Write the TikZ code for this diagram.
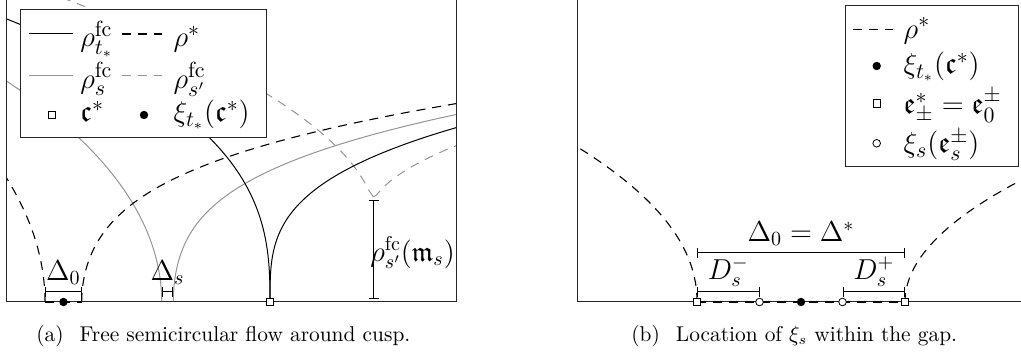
\documentclass[tikz,border=0pt]{standalone}
\usepackage{amssymb}
\usetikzlibrary{arrows.meta}

\begin{document}
\begin{tikzpicture}[x=0.5pt,y=0.5pt,
  frame/.style={line width=0.5pt,black!85},
  fcblack/.style={line width=0.5pt},
  fcgray/.style={line width=0.5pt,black!42},
  rhostar/.style={line width=0.55pt,dash pattern=on 4.5pt off 3.5pt},
  fcdash/.style={fcgray,dash pattern=on 4.5pt off 3.5pt},
  gapbar/.style={line width=0.5pt,arrows={Bar[width=5pt]-Bar[width=5pt]}},
  sqmark/.style={draw,fill=white,rectangle,minimum size=3.8pt,inner sep=0pt,line width=0.4pt},
  dotmark/.style={fill,circle,minimum size=4.2pt,inner sep=0pt},
  ringmark/.style={draw,fill=white,circle,minimum size=3.8pt,inner sep=0pt,line width=0.4pt},
  plbl/.style={font=\fontsize{14}{17}\selectfont},
  leglbl/.style={anchor=base west,inner sep=0pt,font=\fontsize{15}{18}\selectfont},
  capt/.style={anchor=base,font=\fontsize{10.7}{13}\selectfont}]
  \useasboundingbox (0,0) rectangle (1021,356);

  % (a) flow around the cusp
  \begin{scope}[shift={(6,54)}]
    \begin{scope}
      \clip (0,0) rectangle (450,302.2);
      \draw[fcdash,domain=0:370,samples=90,variable=\e]
        plot ({367.5-\e},{105+9.19*((10*veclen(\e/10,0.3))^0.55-1.83)});
      \draw[fcdash,domain=0:85,samples=30,variable=\e]
        plot ({367.5+\e},{105+5.4*((10*veclen(\e/10,0.3))^0.55-1.83)});
      \draw[fcgray,domain=0.001:12.6,samples=60,variable=\t]
        plot ({155.7-\t*\t},{32.7*\t*(\t*\t+300)^(-0.1)});
      \draw[fcgray,domain=0.001:16.9,samples=60,variable=\t]
        plot ({167.3+\t*\t},{33*\t*(\t*\t+20)^(-0.19)});
      \draw[rhostar,domain=0:6.3,samples=30,variable=\t]
        plot ({39-\t*\t},{20*\t});
      \draw[rhostar,domain=0.001:19.4,samples=70,variable=\t]
        plot ({75.7+\t*\t},{34.3*\t*(\t*\t+44.8)^(-0.2)});
      \draw[fcblack,domain=0.001:16.4,samples=70,variable=\t]
        plot ({264-\t*\t},{36*\t^0.74});
      \draw[fcblack,domain=0.001:13.7,samples=60,variable=\t]
        plot ({264+\t*\t},{34.5*\t^0.62});
    \end{scope}
    \draw[frame] (0,0) rectangle (450,302.2);
    \draw[rhostar] (39,0) -- (75.7,0);
    \node[dotmark] (xizero) at (57.5,0) {};
    \node[sqmark] (cusp) at (264,0) {};
    \draw[gapbar] (39,10) -- node[plbl,above] (gapzero) {$\Delta_0$} (75.7,10);
    \draw[gapbar] (155.7,10) -- node[plbl,above] (gaps) {$\Delta_s$} (167.3,10);
    \draw[gapbar] (367.5,2.5) -- (367.5,102);
    \node[plbl,anchor=west,inner sep=0pt] (minval) at (364,49) {$\rho^{\mathrm{fc}}_{s'}(\mathfrak{m}_s)$};
    % legend
    \draw[frame,fill=white] (14,164.3) rectangle (260.7,292.7);
    \draw[fcblack] (23.3,268) -- (67.3,268);
    \node[leglbl] (legtstar) at (74,255.3) {$\rho^{\mathrm{fc}}_{t_*}$};
    \draw[rhostar] (115.7,268) -- (155.7,268);
    \node[leglbl] (legstar) at (167.3,255.3) {$\rho^*$};
    \draw[fcgray] (23.3,226) -- (67.3,226);
    \node[leglbl] (legs) at (74,213.7) {$\rho^{\mathrm{fc}}_s$};
    \draw[fcdash] (115.7,226) -- (155.7,226);
    \node[leglbl] (legsp) at (167.3,213.7) {$\rho^{\mathrm{fc}}_{s'}$};
    \node[sqmark] (legsq) at (45.7,187) {};
    \node[leglbl] (legc) at (74,180.3) {$\mathfrak{c}^*$};
    \node[dotmark] (legdot) at (138,187) {};
    \node[leglbl] (legxi) at (167.3,180.3) {$\xi_{t_*}(\mathfrak{c}^*)$};
  \end{scope}

  % (b) inside the gap
  \begin{scope}[shift={(577,54)}]
    \begin{scope}
      \clip (0,0) rectangle (450,302.2);
      \draw[rhostar,domain=0.001:11,samples=50,variable=\t]
        plot ({120-\t*\t},{15.6*\t^0.96});
      \draw[rhostar,domain=0:11.1,samples=50,variable=\t]
        plot ({328+\t*\t},{11.3*\t});
    \end{scope}
    \draw[frame] (0,0) rectangle (450,302.2);
    \draw[rhostar] (120,0) -- (328,0);
    \draw[gapbar] (120,49) -- node[plbl,above] (gapstar) {$\Delta_0=\Delta^*$} (328,49);
    \draw[gapbar] (120,10) -- node[plbl,above,inner sep=2.5pt] (dminus) {$D_s^-$} (182.5,10);
    \draw[gapbar] (265.5,10) -- node[plbl,above,inner sep=2.5pt] (dplus) {$D_s^+$} (328,10);
    \node[sqmark] (eminus) at (120,0) {};
    \node[sqmark] (eplus) at (328,0) {};
    \node[ringmark] (ximinus) at (182.5,0) {};
    \node[ringmark] (xiplus) at (265.5,0) {};
    \node[dotmark] (xitstar) at (224,0) {};
    % legend
    \draw[frame,fill=white] (268,135.3) rectangle (441.3,296);
    \draw[rhostar] (276,272.7) -- (316,272.7);
    \node[leglbl] (rlegstar) at (326.3,263.7) {$\rho^*$};
    \node[dotmark] (rlegdot) at (299.7,236) {};
    \node[leglbl] (rlegxi) at (326.3,228) {$\xi_{t_*}(\mathfrak{c}^*)$};
    \node[sqmark] (rlegsq) at (299.7,198.7) {};
    \node[leglbl] (rlege) at (326.3,188.5) {$\mathfrak{e}^*_{\pm}=\mathfrak{e}_0^{\pm}$};
    \node[ringmark] (rlegring) at (299.7,158.7) {};
    \node[leglbl] (rlegxis) at (326.3,149) {$\xi_s(\mathfrak{e}_s^{\pm})$};
  \end{scope}

  \node[capt] (capa) at (223.3,14.3) {(a)\hspace{0.75em}Free semicircular flow around cusp.};
  \node[capt] (capb) at (794.2,14.3) {(b)\hspace{0.75em}Location of $\xi_s$ within the gap.};
\end{tikzpicture}
\end{document}
